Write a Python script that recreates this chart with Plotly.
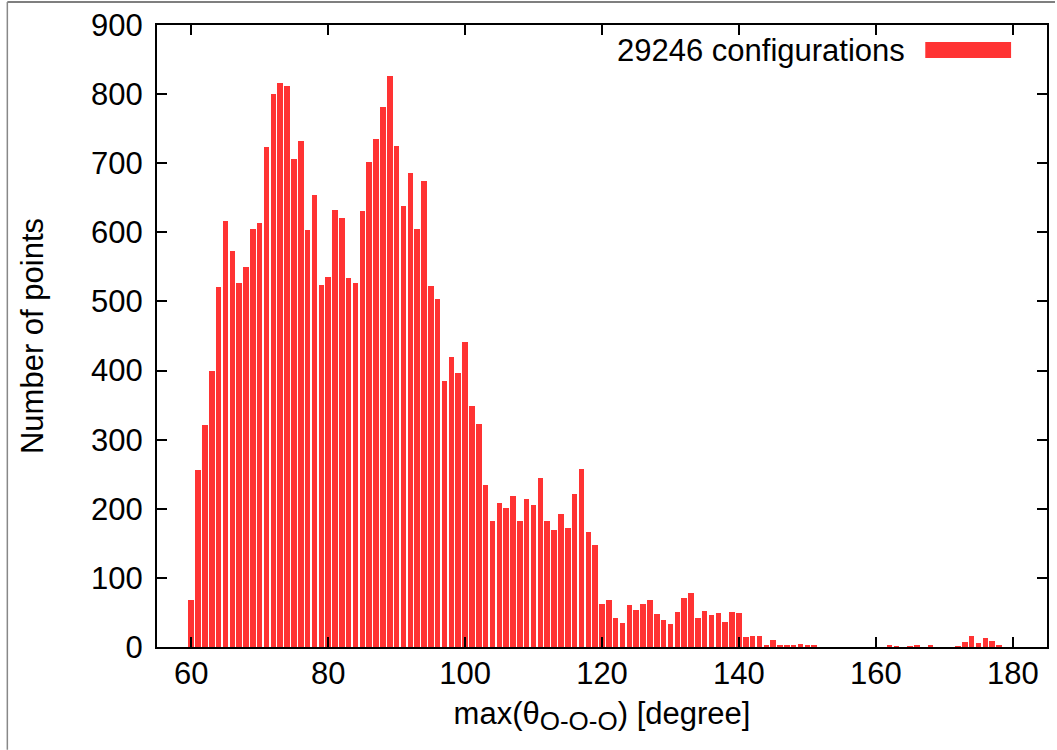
import plotly.graph_objects as go

# Histogram data: bin centre (degree) and number of points
angles = list(range(60, 152)) + [162, 163, 165, 166, 168, 172, 173, 174, 175, 176, 177, 178]
counts = [
    68, 256, 321, 399, 521, 616, 573, 526, 550, 605, 613,          # 60-70
    724, 800, 816, 812, 706, 732, 603, 654, 524, 535,              # 71-80
    632, 621, 534, 527, 631, 702, 735, 782, 826, 725,              # 81-90
    638, 686, 605, 674, 522, 503, 385, 420, 396, 442,              # 91-100
    348, 322, 235, 182, 208, 201, 218, 182, 214, 205,              # 101-110
    244, 183, 170, 193, 172, 222, 258, 166, 147, 62,               # 111-120
    68, 42, 35, 61, 54, 62, 68, 48, 39, 33,                        # 121-130
    51, 71, 78, 42, 52, 47, 49, 36, 51, 49,                        # 131-140
    15, 16, 16, 2, 10, 2, 3, 3, 4, 2, 2,                           # 141-151
    2, 1, 1, 3, 3, 1, 7, 16, 6, 13, 8, 2,                          # sparse tail
]
series_name = "29246 configurations"
x_ticks = [60, 80, 100, 120, 140, 160, 180]
y_ticks = [0, 100, 200, 300, 400, 500, 600, 700, 800, 900]

BAR_COLOR = "#ff3333"
FONT = "Liberation Sans, Arial, sans-serif"
FS = 31

W, H = 1057, 750
L, R, T, B = 157, 8, 24, 103
pw, ph = W - L - R, H - T - B

def px(xp):
    return (xp - L) / pw

def py(yp):
    return (H - B - yp) / ph

fig = go.Figure()
fig.add_trace(go.Bar(
    x=angles, y=counts, width=0.8, name=series_name,
    marker=dict(color=BAR_COLOR, line=dict(width=0)),
    showlegend=False,
))

axis_common = dict(
    showline=True, linecolor="black", linewidth=2, mirror="ticks",
    ticks="inside", ticklen=10, tickwidth=1.5, tickcolor="black",
    showgrid=False, zeroline=False,
    tickfont=dict(family=FONT, size=FS, color="black"),
)

fig.update_layout(
    width=W, height=H,
    margin=dict(l=L, r=R, t=T, b=B, pad=0),
    paper_bgcolor="white", plot_bgcolor="white",
    font=dict(family=FONT, size=FS, color="black"),
    xaxis=dict(range=[55, 185], tickvals=x_ticks, ticklabelstandoff=-2,
               title=dict(text='max(θ<sub><span style="font-size:26px">O-O-O</span></sub>) [degree]',
                          font=dict(family=FONT, size=FS), standoff=12),
               **axis_common),
    yaxis=dict(range=[0, 900], tickvals=y_ticks, ticklabelstandoff=6,
               title=dict(text="Number of points",
                          font=dict(family=FONT, size=FS), standoff=38),
               **axis_common),
    bargap=0,
)

# gnuplot-style key: text on the left, swatch on the right
fig.add_annotation(
    xref="paper", yref="paper", x=px(909), y=py(50),
    xanchor="right", yanchor="middle", showarrow=False,
    text=series_name, font=dict(family=FONT, size=FS, color="black"),
)
fig.add_shape(type="rect", xref="paper", yref="paper",
              x0=px(927), x1=px(1013), y0=py(57), y1=py(41),
              fillcolor=BAR_COLOR, line=dict(width=0))

# outer image frame lines (top and left)
fig.add_shape(type="line", xref="paper", yref="paper",
              x0=px(7), x1=px(1057), y0=py(1), y1=py(1),
              line=dict(color="#555555", width=1.5))
fig.add_shape(type="line", xref="paper", yref="paper",
              x0=px(7), x1=px(7), y0=py(1), y1=py(750),
              line=dict(color="#888888", width=1.5))

fig.write_html("out.html")
